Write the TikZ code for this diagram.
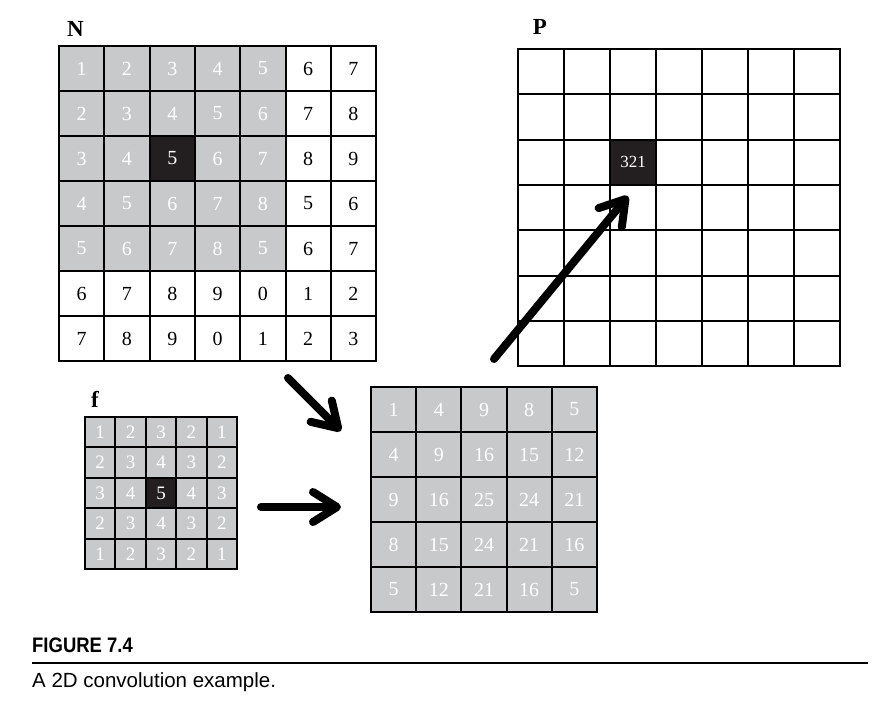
\documentclass[tikz,border=0pt]{standalone}
\usepackage{fontspec}
\setmainfont{Liberation Serif}
\newfontfamily\headfont[FakeStretch=0.88]{Liberation Sans}
\newfontfamily\capfont{Liberation Sans}
\usepackage{tikz}
\usetikzlibrary{arrows.meta, positioning}
\definecolor{cellgray}{RGB}{200,201,203}
\definecolor{cellblack}{RGB}{35,31,32}

\begin{document}
\begin{tikzpicture}[x=1pt, y=-1pt]
 % We define the styles for the cells, the labels and the arrows
 \tikzset{
cell/.style = {draw=black, line width=2pt, inner sep=0pt, outer sep=0pt, font=\fontsize{20}{20}\selectfont},
small/.style = {cell, minimum width=30.4pt, minimum height=30.4pt, font=\fontsize{19}{19}\selectfont},
grid/.style = {font=\bfseries\fontsize{23}{23}\selectfont, inner sep=0pt},
line/.style = {draw, -{Straight Barb[length=24pt, width=30pt, round]}, line width=8pt, line cap=round},
}
 \useasboundingbox (0,0) rectangle (884,706);

 % Input array N
 \node [grid] (nlabel) at (75.5,29) {N};
 \foreach \row [count=\r] in {{1,2,3,4,5,6,7},{2,3,4,5,6,7,8},{3,4,5,6,7,8,9},{4,5,6,7,8,5,6},{5,6,7,8,5,6,7},{6,7,8,9,0,1,2},{7,8,9,0,1,2,3}}
  \foreach \v [count=\c] in \row {
   \pgfmathtruncatemacro\k{and(\r<6,\c<6)+and(\r==3,\c==3)}
   \ifcase\k \def\fc{white}\def\tc{black}\or \def\fc{cellgray}\def\tc{white}\else \def\fc{cellblack}\def\tc{white}\fi
   \node [cell, fill=\fc, text=\tc, minimum width=45.3pt, minimum height=45pt] (n-\r-\c) at (36.35+45.3*\c, 23.5+45*\r) {\v};
  }

 % Output array P
 \node [grid] (plabel) at (540,27) {P};
 \foreach \r in {1,...,7}
  \foreach \c in {1,...,7}
   \node [cell, minimum width=46pt, minimum height=45.3pt] (p-\r-\c) at (495+46*\c, 26.35+45.3*\r) {};
 \node [cell, fill=cellblack, text=white, minimum width=46pt, minimum height=45.3pt, font=\fontsize{17}{17}\selectfont] at (p-3-3) {321};

 % Mask f
 \node [grid] (flabel) at (95,399) {f};
 \foreach \row [count=\r] in {{1,2,3,2,1},{2,3,4,3,2},{3,4,5,4,3},{2,3,4,3,2},{1,2,3,2,1}}
  \foreach \v [count=\c] in \row {
   \pgfmathtruncatemacro\k{1+and(\r==3,\c==3)}
   \ifnum\k=1 \def\fc{cellgray}\else \def\fc{cellblack}\fi
   \node [small, fill=\fc, text=white] (f-\r-\c) at (69.8+30.4*\c, 401.8+30.4*\r) {\v};
  }

 % Products of N and f
 \foreach \row [count=\r] in {{1,4,9,8,5},{4,9,16,15,12},{9,16,25,24,21},{8,15,24,21,16},{5,12,21,16,5}}
  \foreach \v [count=\c] in \row
   \node [cell, fill=cellgray, text=white, minimum width=45.2pt, minimum height=45pt] (prod-\r-\c) at (348.4+45.2*\c, 364.5+45*\r) {\v};

 % Arrows
 \coordinate (nout) at (288,378);
 \coordinate (prodin) at (341,431);
 \coordinate (fout) at (261,507);
 \coordinate (prodleft) at (341,507);
 \coordinate (prodout) at (494,359);
 \coordinate (pin) at (628,196);
 \draw [line] (nout) -- (prodin);
 \draw [line] (fout) -- (prodleft);
 \draw [line] (prodout) -- (pin);

 % Caption
 \node [anchor=base west, inner sep=0pt, font=\headfont\bfseries\fontsize{21}{21}\selectfont] (fighead) at (32,652) {FIGURE 7.4};
 \coordinate (rulel) at (32,663);
 \coordinate (ruler) at (868,663);
 \draw [line width=1.5pt] (rulel) -- (ruler);
 \node [anchor=base west, inner sep=0pt, font=\capfont\fontsize{20.5}{20.5}\selectfont] (figtext) at (32,687) {A 2D convolution example.};

\end{tikzpicture}
\end{document}
